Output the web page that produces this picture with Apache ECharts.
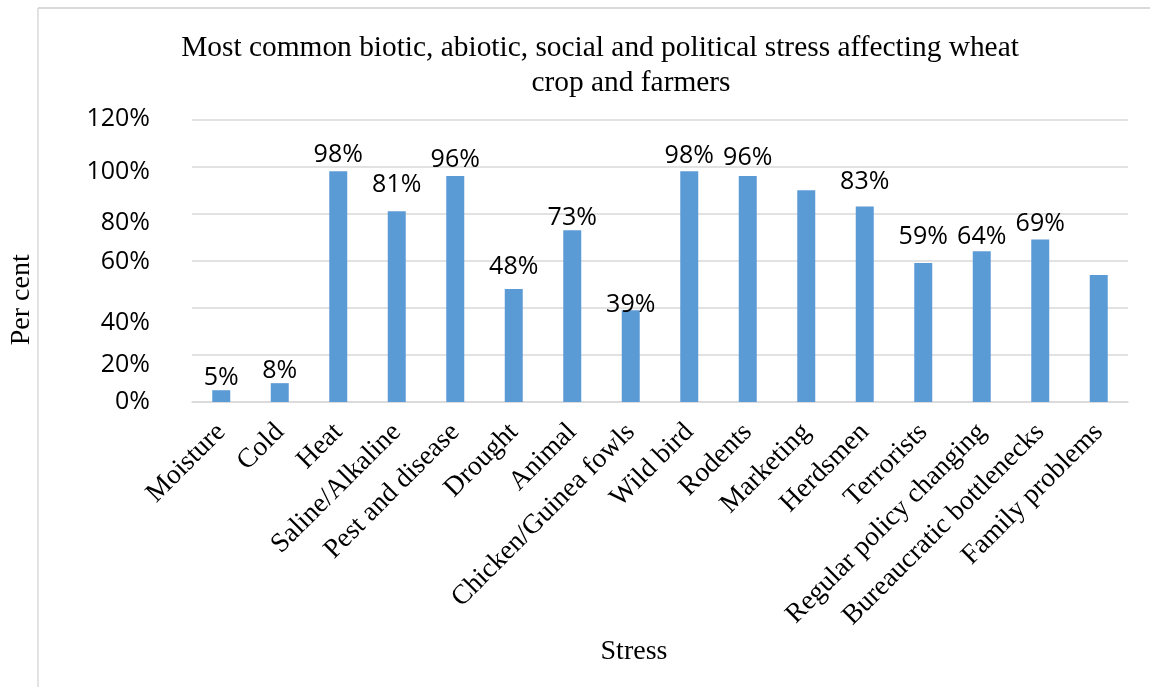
<!DOCTYPE html>
<html>
<head>
<meta charset="utf-8">
<title>Stress affecting wheat crop and farmers</title>
<script src="https://cdn.jsdelivr.net/npm/echarts@6/dist/echarts.min.js"></script>
<style>
  html, body { margin: 0; padding: 0; background: #ffffff; }
  #chart { width: 1150px; height: 687px; }
</style>
</head>
<body>
<div id="chart"></div>
<script>
// Share of respondents reporting each stress (per cent)
const categories = [
  'Moisture', 'Cold', 'Heat', 'Saline/Alkaline', 'Pest and disease', 'Drought',
  'Animal', 'Chicken/Guinea fowls', 'Wild bird', 'Rodents', 'Marketing',
  'Herdsmen', 'Terrorists', 'Regular policy changing', 'Bureaucratic bottlenecks',
  'Family problems'
];
const values = [5, 8, 98, 81, 96, 48, 73, 39, 98, 96, 90, 83, 59, 64, 69, 54];
// Bars printed without a value label
const unlabelled = ['Marketing', 'Family problems'];
const yTicks = [0, 20, 40, 60, 80, 100, 120];

// Label placement tweaks (px): gap above each bar, and vertical nudge of y tick labels
const labelGap = {
  'Moisture': 0, 'Cold': 0, 'Heat': 4, 'Saline/Alkaline': 14, 'Pest and disease': 4,
  'Drought': 10, 'Animal': 0, 'Chicken/Guinea fowls': -7, 'Wild bird': 3, 'Rodents': 6,
  'Herdsmen': 12, 'Terrorists': 14, 'Regular policy changing': 2, 'Bureaucratic bottlenecks': 3
};
const tickNudge = { 0: 0, 20: 10, 40: 15, 60: 1, 80: 9, 100: 5, 120: -1 };

const sans = '"Open Sans", "Noto Sans", sans-serif';
const serif = '"Liberation Serif", "DejaVu Serif", serif';

const tickRich = {};
yTicks.forEach(function (t) {
  const n = tickNudge[t] || 0;
  tickRich['t' + t] = {
    fontFamily: sans, fontSize: 25, color: '#000000',
    padding: n >= 0 ? [2 * n, 0, 0, 0] : [0, 0, -2 * n, 0]
  };
});

const barData = categories.map(function (c, i) {
  const item = { value: values[i] };
  if (unlabelled.indexOf(c) >= 0) {
    item.label = { show: false };
  } else {
    item.label = { distance: labelGap[c] || 0 };
  }
  return item;
});

const chart = echarts.init(document.getElementById('chart'), null, { renderer: 'canvas' });

chart.setOption({
  backgroundColor: '#ffffff',
  animation: false,
  graphic: [
    // outer frame of the chart area
    { type: 'line', shape: { x1: 38, y1: 8, x2: 38, y2: 700 }, style: { stroke: '#d9d9d9', lineWidth: 1.5 } },
    { type: 'line', shape: { x1: 38, y1: 8, x2: 1160, y2: 8 }, style: { stroke: '#d9d9d9', lineWidth: 2 } },
    {
      type: 'text', x: 600, y: 48,
      style: {
        text: 'Most common biotic, abiotic, social and political stress affecting wheat',
        font: '29.4px ' + serif, fill: '#000000', textAlign: 'center', textVerticalAlign: 'middle'
      }
    },
    {
      type: 'text', x: 631, y: 83,
      style: {
        text: 'crop and farmers',
        font: '29.4px ' + serif, fill: '#000000', textAlign: 'center', textVerticalAlign: 'middle'
      }
    }
  ],
  grid: {
    left: 192, right: 22, top: 119.5, bottom: 285,
    containLabel: false, outerBoundsMode: 'none'
  },
  xAxis: {
    type: 'category',
    data: categories,
    name: 'Stress',
    nameLocation: 'middle',
    nameGap: 236,
    nameTextStyle: { fontFamily: serif, fontSize: 28, color: '#000000', padding: [0, 52, 0, 0] },
    axisLine: { lineStyle: { color: '#d9d9d9', width: 1.5 } },
    axisTick: { show: false },
    axisLabel: {
      interval: 0, rotate: 45, margin: 26,
      fontFamily: serif, fontSize: 27.5, color: '#000000'
    }
  },
  yAxis: {
    type: 'value',
    min: 0, max: 120, interval: 20,
    name: 'Per cent',
    nameLocation: 'middle',
    nameGap: 156,
    nameTextStyle: { fontFamily: serif, fontSize: 28, color: '#000000', padding: [0, 78, 0, 0] },
    axisLine: { show: false },
    axisTick: { show: false },
    splitLine: { lineStyle: { color: '#d9d9d9', width: 1.5 } },
    axisLabel: {
      margin: 42,
      fontFamily: sans, fontSize: 25, color: '#000000',
      formatter: function (v) { return '{t' + v + '|' + v + '%}'; },
      rich: tickRich
    }
  },
  series: [{
    type: 'bar',
    data: barData,
    barWidth: 18,
    itemStyle: { color: '#5b9bd5' },
    label: {
      show: true, position: 'top',
      fontFamily: sans, fontSize: 25, color: '#000000',
      formatter: function (p) { return p.value + '%'; }
    }
  }]
});
</script>
</body>
</html>
